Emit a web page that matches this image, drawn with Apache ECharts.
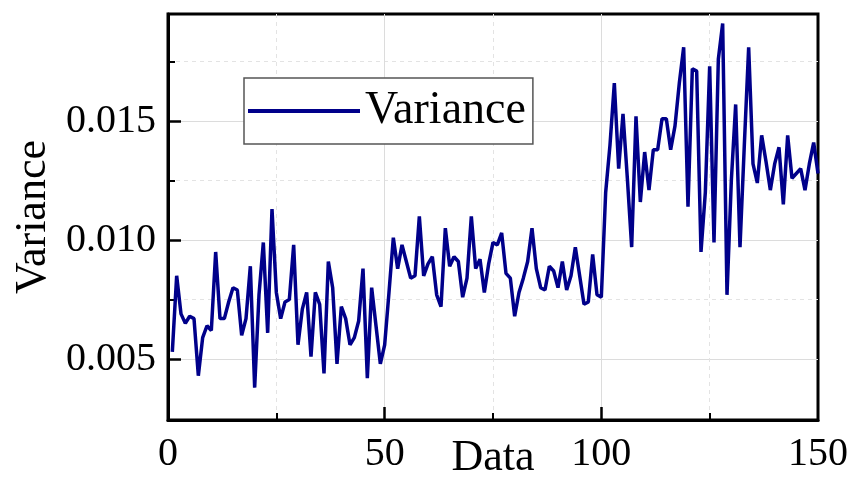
<!DOCTYPE html>
<html>
<head>
<meta charset="utf-8">
<script src="https://cdn.jsdelivr.net/npm/echarts@6/dist/echarts.min.js"></script>
<style>html,body{margin:0;padding:0;background:#fff;}#c{width:854px;height:477px;}</style>
</head>
<body>
<div id="c"></div>
<script>
// ---- data ----
const seriesName = 'Variance';
const xStart = 1;
const variance = [
  0.0053, 0.0085, 0.0069, 0.0065, 0.0068, 0.0067, 0.0043, 0.0059, 0.0064, 0.0062,
  0.0095, 0.0067, 0.0067, 0.0074, 0.0080, 0.0079, 0.0060, 0.0067, 0.0089, 0.0038,
  0.0077, 0.0099, 0.0061, 0.0113, 0.0078, 0.0067, 0.0074, 0.0075, 0.0098, 0.0056,
  0.0071, 0.0078, 0.0051, 0.0078, 0.0073, 0.0044, 0.0091, 0.0080, 0.0048, 0.0072,
  0.0067, 0.0056, 0.0059, 0.0066, 0.0088, 0.0042, 0.0080, 0.0064, 0.0048, 0.0056,
  0.0078, 0.0101, 0.0088, 0.0098, 0.0091, 0.0084, 0.0085, 0.0110, 0.0085, 0.0090,
  0.0093, 0.0077, 0.0072, 0.0105, 0.0089, 0.0093, 0.0091, 0.0076, 0.0084, 0.0110,
  0.0088, 0.0092, 0.0078, 0.0090, 0.0099, 0.0098, 0.0103, 0.0086, 0.0084, 0.0068,
  0.0078, 0.0084, 0.0091, 0.0105, 0.0088, 0.0080, 0.0079, 0.0089, 0.0087, 0.0080,
  0.0091, 0.0079, 0.0085, 0.0097, 0.0085, 0.0073, 0.0074, 0.0094, 0.0077, 0.0076,
  0.0120, 0.0140, 0.0166, 0.0130, 0.0153, 0.0126, 0.0097, 0.0152, 0.0116, 0.0137,
  0.0121, 0.0138, 0.0138, 0.0151, 0.0151, 0.0138, 0.0148, 0.0166, 0.0181, 0.0114,
  0.0172, 0.0171, 0.0095, 0.0120, 0.0173, 0.0099, 0.0176, 0.0191, 0.0077, 0.0125,
  0.0157, 0.0097, 0.0140, 0.0181, 0.0132, 0.0124, 0.0144, 0.0133, 0.0121, 0.0132,
  0.0139, 0.0115, 0.0144, 0.0126, 0.0128, 0.0130, 0.0121, 0.0132, 0.0141, 0.0128
];
const xMajorTicks = [0, 50, 100, 150];
const xMinorTicks = [25, 75, 125];
const yMajorTicks = [0.005, 0.010, 0.015];
const yMinorTicks = [0.0075, 0.0125, 0.0175];
const xRange = [0, 150];
const yRange = [0.00244, 0.0195];
const xTitle = 'Data';
const yTitle = 'Variance';

// ---- chart ----
const points = variance.map((v, i) => [xStart + i, v]);
const FONT = 'Liberation Serif';
const chart = echarts.init(document.getElementById('c'), null, {renderer: 'canvas'});

const baseX = {
  type: 'value', min: xRange[0], max: xRange[1], position: 'bottom',
  axisLine: {show: false}, axisLabel: {show: false}
};
const baseY = {
  type: 'value', min: yRange[0], max: yRange[1], position: 'left',
  axisLine: {show: false}, axisLabel: {show: false}
};

chart.setOption({
  animation: false,
  backgroundColor: '#fff',
  grid: {left: 168, right: 36, top: 14, bottom: 57, containLabel: false, outerBoundsMode: 'none',
    show: true, borderColor: '#000', borderWidth: 3, backgroundColor: 'transparent'},
  legend: {
    show: true, left: 244, top: 78,
    padding: [10, 7, 10, 4],
    itemWidth: 112, itemHeight: 14, itemGap: 12,
    backgroundColor: '#fff', borderColor: '#555', borderWidth: 1.5, borderRadius: 0,
    textStyle: {fontFamily: FONT, fontSize: 46, color: '#000', lineHeight: 46},
    data: [{name: seriesName, icon: 'path://M0,0 L100,0 L100,3.4 L0,3.4 Z'}]
  },
  xAxis: [
    Object.assign({}, baseX, {
      splitLine: {show: true, lineStyle: {color: '#e3e3e3', type: [4, 4], width: 1}, customValues: xMinorTicks},
      axisTick: {show: true, inside: true, length: 7, lineStyle: {color: '#000', width: 2}, customValues: xMinorTicks}
    }),
    Object.assign({}, baseX, {
      axisLine: {show: true, onZero: false, lineStyle: {color: '#000', width: 3}},
      splitLine: {show: true, lineStyle: {color: '#dcdcdc', type: 'solid', width: 1}, customValues: [50, 100]},
      axisTick: {show: true, inside: true, length: 13, lineStyle: {color: '#000', width: 2.5}, customValues: [50, 100]},
      axisLabel: {show: true, customValues: xMajorTicks, fontFamily: FONT, fontSize: 40, color: '#000', margin: 14},
      name: xTitle, nameLocation: 'middle', nameGap: 16, nameMoveOverlap: false,
      nameTextStyle: {fontFamily: FONT, fontSize: 44, color: '#000', verticalAlign: 'top'}
    })
  ],
  yAxis: [
    Object.assign({}, baseY, {
      splitLine: {show: true, lineStyle: {color: '#e3e3e3', type: [4, 4], width: 1}, customValues: yMinorTicks},
      axisTick: {show: true, inside: true, length: 7, lineStyle: {color: '#000', width: 2}, customValues: yMinorTicks}
    }),
    Object.assign({}, baseY, {
      axisLine: {show: true, onZero: false, lineStyle: {color: '#000', width: 3}},
      splitLine: {show: true, lineStyle: {color: '#dcdcdc', type: 'solid', width: 1}, customValues: yMajorTicks},
      axisTick: {show: true, inside: true, length: 13, lineStyle: {color: '#000', width: 2.5}, customValues: yMajorTicks},
      axisLabel: {show: true, customValues: yMajorTicks, fontFamily: FONT, fontSize: 40, color: '#000', margin: 12,
        formatter: v => v.toFixed(3)},
      name: yTitle, nameLocation: 'middle', nameGap: 113, nameMoveOverlap: false,
      nameTextStyle: {fontFamily: FONT, fontSize: 44, color: '#000'}
    })
  ],
  series: [{
    name: seriesName, type: 'line', xAxisIndex: 0, yAxisIndex: 0,
    data: points, showSymbol: false, symbol: 'none',
    lineStyle: {color: '#00008a', width: 3.5}, itemStyle: {color: '#00008a'},
    z: 3
  }]
});
</script>
</body>
</html>
